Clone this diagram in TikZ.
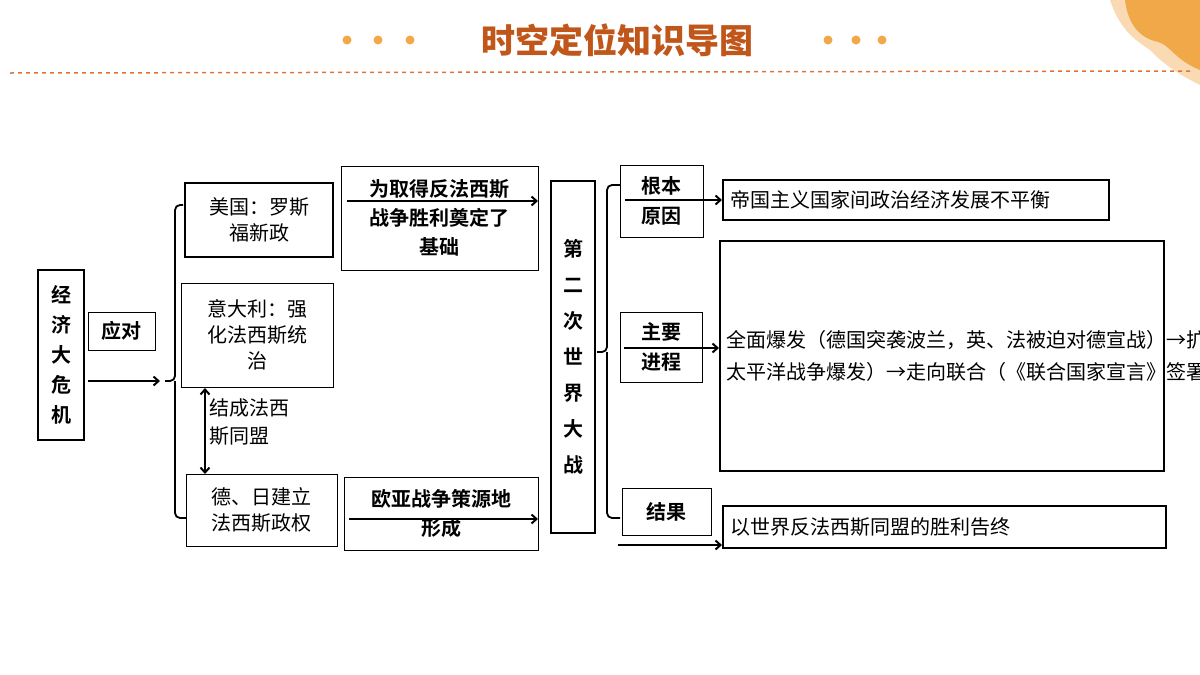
\documentclass[tikz,border=0pt]{standalone}
\usepackage{fontspec}
\setmainfont{Noto Sans CJK SC}
\newfontfamily\cjkb{Noto Sans CJK SC Bold}
\newfontfamily\cjkblk{Noto Sans CJK SC Black}
\usetikzlibrary{arrows.meta}
\definecolor{ttl}{HTML}{C0561A}
\definecolor{dotc}{HTML}{F0A848}
\definecolor{dashc}{HTML}{D9773A}
\begin{document}
\begin{tikzpicture}[x=1pt,y=-1pt,
  bx/.style={draw,line width=1pt,inner sep=0pt,align=center,font=\fontsize{20}{26}\selectfont},
  tbx/.style={bx,line width=2pt},
  arr/.style={line width=2pt,-{Straight Barb[length=5pt,width=9pt]}},
  brc/.style={line width=1.8pt,rounded corners=5pt}]
\useasboundingbox (0,0) rectangle (1200,675);
% header
\fill[dotc!70,opacity=.6] (1110,0) -- (1200,0) -- (1200,85) .. controls (1170,70) and (1160,60) .. (1150,50) .. controls (1135,40) and (1120,30) .. (1110,0) -- cycle;
\fill[dotc] (1125,0) -- (1200,0) -- (1200,70) .. controls (1175,60) and (1170,45) .. (1158,42) .. controls (1140,38) and (1128,25) .. (1125,0) -- cycle;
\node[text=ttl,font=\cjkblk\fontsize{34}{34}\selectfont] (title) at (617,40) {时空定位知识导图};
\foreach \x in {347,378,410,828,856,882} \fill[dotc] (\x,40) circle (4.5);
\draw[dashc,line width=1.5pt,dash pattern=on 4pt off 4pt] (10,73) -- (1192,71);
% left part
\node[tbx,minimum width=46,minimum height=170,font=\cjkb\fontsize{20}{30}\selectfont] (jj) at (61,355) {经\\济\\大\\危\\机};
\node[bx,minimum width=67,minimum height=38,font=\cjkb\fontsize{20}{26}\selectfont] (yd) at (121.5,331) {应对};
\coordinate (a0) at (88,381);
\coordinate (b0) at (160,381);
\draw[arr] (a0) -- (b0);
\draw[brc] (183,205) -- (175,205) -- (175,381) -- (165,381) (175,381) -- (175,518) -- (186,518);
\node[tbx,minimum width=148,minimum height=74] (mg) at (259,220) {美国：罗斯\\福新政};
\node[bx,minimum width=152,minimum height=104] (ydl) at (257,335) {意大利：强\\化法西斯统\\治};
\node[bx,minimum width=151,minimum height=72] (dr) at (261.5,510) {德、日建立\\法西斯政权};
\coordinate (u1) at (205,388);
\coordinate (u2) at (205,474);
\draw[line width=2pt,{Straight Barb[length=5pt,width=9pt]}-{Straight Barb[length=5pt,width=9pt]}] (u1) -- (u2);
\node[anchor=north west,align=left,inner sep=0pt,font=\fontsize{20}{28}\selectfont] (jc) at (209,398) {结成法西\\斯同盟};
\node[bx,minimum width=197,minimum height=104,font=\cjkb\fontsize{20}{29}\selectfont] (wq) at (439.5,218) {为取得反法西斯\\战争胜利奠定了\\基础};
\coordinate (w1) at (347,201);
\coordinate (w2) at (538,201);
\draw[arr] (w1) -- (w2);
\node[bx,minimum width=194,minimum height=73,font=\cjkb\fontsize{20}{29}\selectfont] (oy) at (441,513.5) {欧亚战争策源地\\形成};
\coordinate (o1) at (349,519);
\coordinate (o2) at (538,519);
\draw[arr] (o1) -- (o2);
\node[tbx,minimum width=44,minimum height=352,font=\cjkb\fontsize{20}{36}\selectfont] (dz) at (573,357) {第\\二\\次\\世\\界\\大\\战};
% right part
\draw[brc] (620,185) -- (607,185) -- (607,352) -- (597,352) (607,352) -- (607,518) -- (620,518);
\node[bx,minimum width=83,minimum height=72,font=\cjkb\fontsize{20}{30}\selectfont] (gb) at (661.5,201) {根本\\原因};
\node[tbx,minimum width=386,minimum height=40,anchor=west,text width=372,align=left] (dg) at (722,200) {帝国主义国家间政治经济发展不平衡};
\coordinate (g1) at (625,200);
\draw[arr] (g1) -- (dg.west);
\node[bx,minimum width=82,minimum height=70,font=\cjkb\fontsize{20}{30}\selectfont] (zy) at (661,347) {主要\\进程};
\node[tbx,minimum width=444,minimum height=230,anchor=north west,text width=432,align=left,font=\fontsize{20}{31.5}\selectfont] (qm) at (719,240) {全面爆发（德国突袭波兰，英、法被迫对德宣战）→扩大（德国进攻苏联）→最大规模（日本偷袭珍珠港 太平洋战争爆发）→走向联合（《联合国家宣言》签署，世界反法西斯同盟形成）→转折（斯大林格勒战役）→开辟欧洲第二战场（诺曼底登陆）→全面结束（日本正式签署投降书）};
\coordinate (z1) at (624,348);
\coordinate (z2) at (719,348);
\draw[arr] (z1) -- (z2);
\node[bx,minimum width=89,minimum height=47,font=\cjkb\fontsize{20}{26}\selectfont] (jg) at (666.5,511.5) {结果};
\node[tbx,minimum width=443,minimum height=42,anchor=west,text width=428,align=left] (yi) at (722,527) {以世界反法西斯同盟的胜利告终};
\coordinate (r1) at (618,545);
\coordinate (r2) at (722,545);
\draw[arr] (r1) -- (r2);
\end{tikzpicture}
\end{document}
